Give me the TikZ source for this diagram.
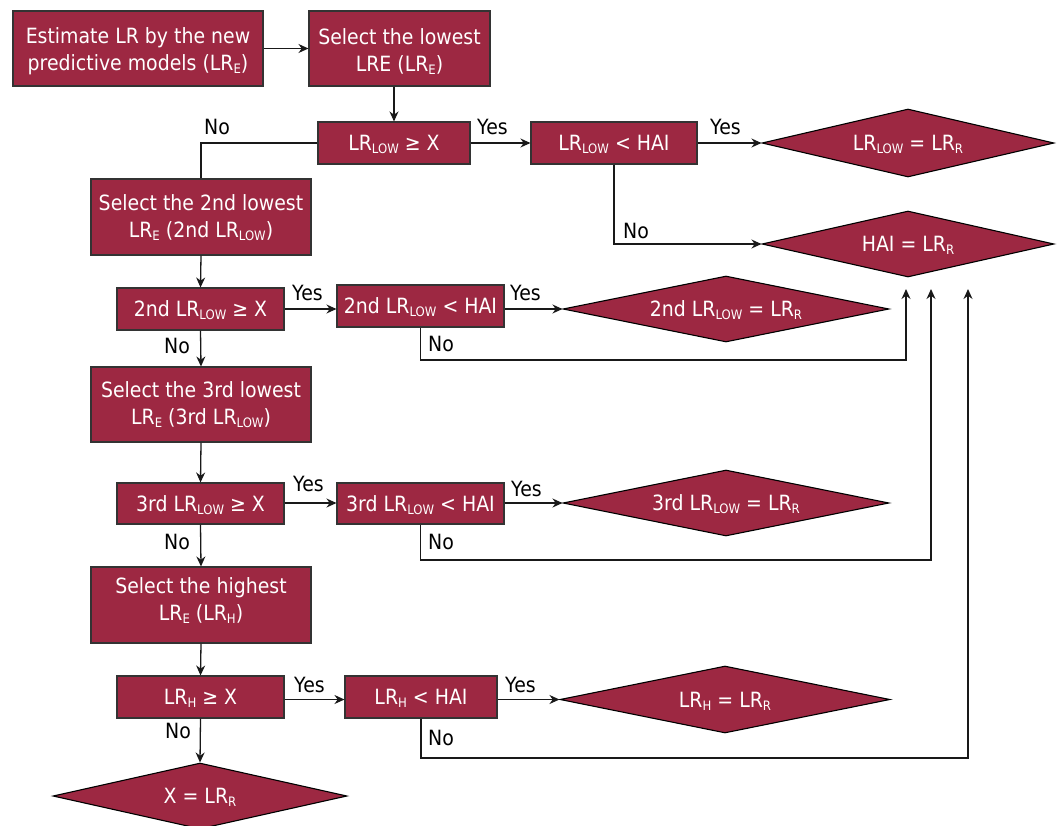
\documentclass[tikz,border=0pt]{standalone}
\usepackage{fontspec}
\setmainfont{DejaVu Sans}[FakeStretch=0.9]
\usetikzlibrary{shapes.geometric,arrows.meta}
\definecolor{wine}{RGB}{157,40,66}
\newcommand{\lsub}[1]{\smash{\raisebox{-3pt}{\fontsize{13pt}{13pt}\selectfont #1}}}
\newcommand{\topstrut}{\rule{0pt}{22pt}}
\newcommand{\botstrut}{\rule[-11pt]{0pt}{11pt}}
\begin{document}
\begin{tikzpicture}[x=1pt,y=-1pt,
  box/.style={draw=black!80, line width=1.1pt, fill=wine, text=white, inner sep=0pt,
    align=center, font=\fontsize{21pt}{27pt}\selectfont},
  dia/.style={diamond, shape aspect=4.4, draw=black, line width=1.1pt, fill=wine,
    text=white, inner sep=0pt, font=\fontsize{21pt}{27pt}\selectfont},
  conn/.style={line width=1.3pt, draw=black!90},
  arr/.style={conn, -{Stealth[length=10pt,width=9pt]}},
  lbl/.style={font=\fontsize{21pt}{21pt}\selectfont, inner sep=0pt, anchor=base west}
]
\useasboundingbox (0,0) rectangle (1062,825);

% first row
\node[box, minimum width=250pt, minimum height=75pt] (b1) at (138,48.5)
  {\topstrut Estimate LR by the new\\predictive models (LR\lsub{E})};
\node[box, minimum width=181pt, minimum height=75pt] (b2) at (399.5,48.5)
  {\topstrut Select the lowest\\LRE (LR\lsub{E})};

% LOW row
\node[box, minimum width=152pt, minimum height=42pt] (c1) at (394,143) {LR\lsub{LOW} ≥ X};
\node[box, minimum width=166pt, minimum height=42pt] (d1) at (614,143) {LR\lsub{LOW} < HAI};
\node[dia, minimum width=292pt, minimum height=68pt] (r1) at (908,143) {LR\lsub{LOW} = LR\lsub{R}};
\node[dia, minimum width=292pt, minimum height=66pt] (r2) at (908,244) {HAI = LR\lsub{R}};

% 2nd row
\node[box, minimum width=220pt, minimum height=76pt] (b3) at (201,217)
  {Select the 2nd lowest\\LR\lsub{E} (2nd LR\lsub{LOW})};
\node[box, minimum width=167pt, minimum height=42pt] (c2) at (200.5,309) {2nd LR\lsub{LOW} ≥ X};
\node[box, minimum width=167pt, minimum height=42pt] (d2) at (420.5,306) {2nd LR\lsub{LOW} < HAI};
\node[dia, minimum width=326pt, minimum height=66pt] (r3) at (726,309) {2nd LR\lsub{LOW} = LR\lsub{R}};

% 3rd row
\node[box, minimum width=220pt, minimum height=75pt] (b4) at (201,404.5)
  {Select the 3rd lowest\\LR\lsub{E} (3rd LR\lsub{LOW})};
\node[box, minimum width=167pt, minimum height=41pt] (c3) at (200.5,503.5) {3rd LR\lsub{LOW} ≥ X};
\node[box, minimum width=167pt, minimum height=41pt] (d3) at (420.5,503.5) {3rd LR\lsub{LOW} < HAI};
\node[dia, minimum width=326pt, minimum height=66pt] (r4) at (726,503) {3rd LR\lsub{LOW} = LR\lsub{R}};

% highest row
\node[box, minimum width=220pt, minimum height=76pt] (b5) at (201,605)
  {Select the highest\\LR\lsub{E} (LR\lsub{H})\botstrut};
\node[box, minimum width=167pt, minimum height=42pt] (c4) at (200.5,697) {LR\lsub{H} ≥ X};
\node[box, minimum width=152pt, minimum height=42pt] (d4) at (421,697) {LR\lsub{H} < HAI};
\node[dia, minimum width=330pt, minimum height=67pt] (r5) at (725,699.5) {LR\lsub{H} = LR\lsub{R}};
\node[dia, minimum width=294pt, minimum height=66pt] (r6) at (200,796) {X = LR\lsub{R}};

% return arrow tips
\coordinate (t1) at (906,289);
\coordinate (t2) at (931,289);
\coordinate (t3) at (968,289);

% connectors
\draw[arr] (b1.east) -- (b2.west);
\draw[arr] (c1.north |- b2.south) -- (c1.north);
\draw[conn] (c1.west) -| (b3.north);
\draw[arr] (c1.east) -- (d1.west);
\draw[arr] (d1.east) -- (r1.west);
\draw[arr] (d1.south) |- (r2.west);

\draw[arr] (b3.south) -- (c2.north);
\draw[arr] (c2.east) -- (c2.east -| d2.west);
\draw[arr] (d2.east |- r3.west) -- (r3.west);
\draw[arr] (c2.south) -- (b4.north);
\draw[arr] (d2.south) -- (d2.south |- 0,360) -| (t1);

\draw[arr] (b4.south) -- (c3.north);
\draw[arr] (c3.east |- r4.west) -- (d3.west |- r4.west);
\draw[arr] (d3.east |- r4.west) -- (r4.west);
\draw[arr] (c3.south) -- (b5.north);
\draw[arr] (d3.south) -- (d3.south |- 0,560) -| (t2);

\draw[arr] (b5.south) -- (c4.north);
\draw[arr] (c4.east |- r5.west) -- (d4.west |- r5.west);
\draw[arr] (d4.east |- r5.west) -- (r5.west);
\draw[arr] (c4.south) -- (r6.north);
\draw[arr] (d4.south) -- (d4.south |- 0,758) -| (t3);

% labels
\node[lbl] (n1) at (204,134) {No};
\node[lbl] (y1) at (477,134) {Yes};
\node[lbl] (y2) at (710,134) {Yes};
\node[lbl] (n2) at (623,238) {No};

\node[lbl] (y3) at (292,300) {Yes};
\node[lbl] (y4) at (510,300) {Yes};
\node[lbl] (n3) at (164,353) {No};
\node[lbl] (n4) at (428,351) {No};

\node[lbl] (y5) at (293,491) {Yes};
\node[lbl] (y6) at (511,496) {Yes};
\node[lbl] (n5) at (164,549) {No};
\node[lbl] (n6) at (428,549) {No};

\node[lbl] (y7) at (294,692) {Yes};
\node[lbl] (y8) at (505,692) {Yes};
\node[lbl] (n7) at (165,738) {No};
\node[lbl] (n8) at (428,745) {No};
\end{tikzpicture}
\end{document}
